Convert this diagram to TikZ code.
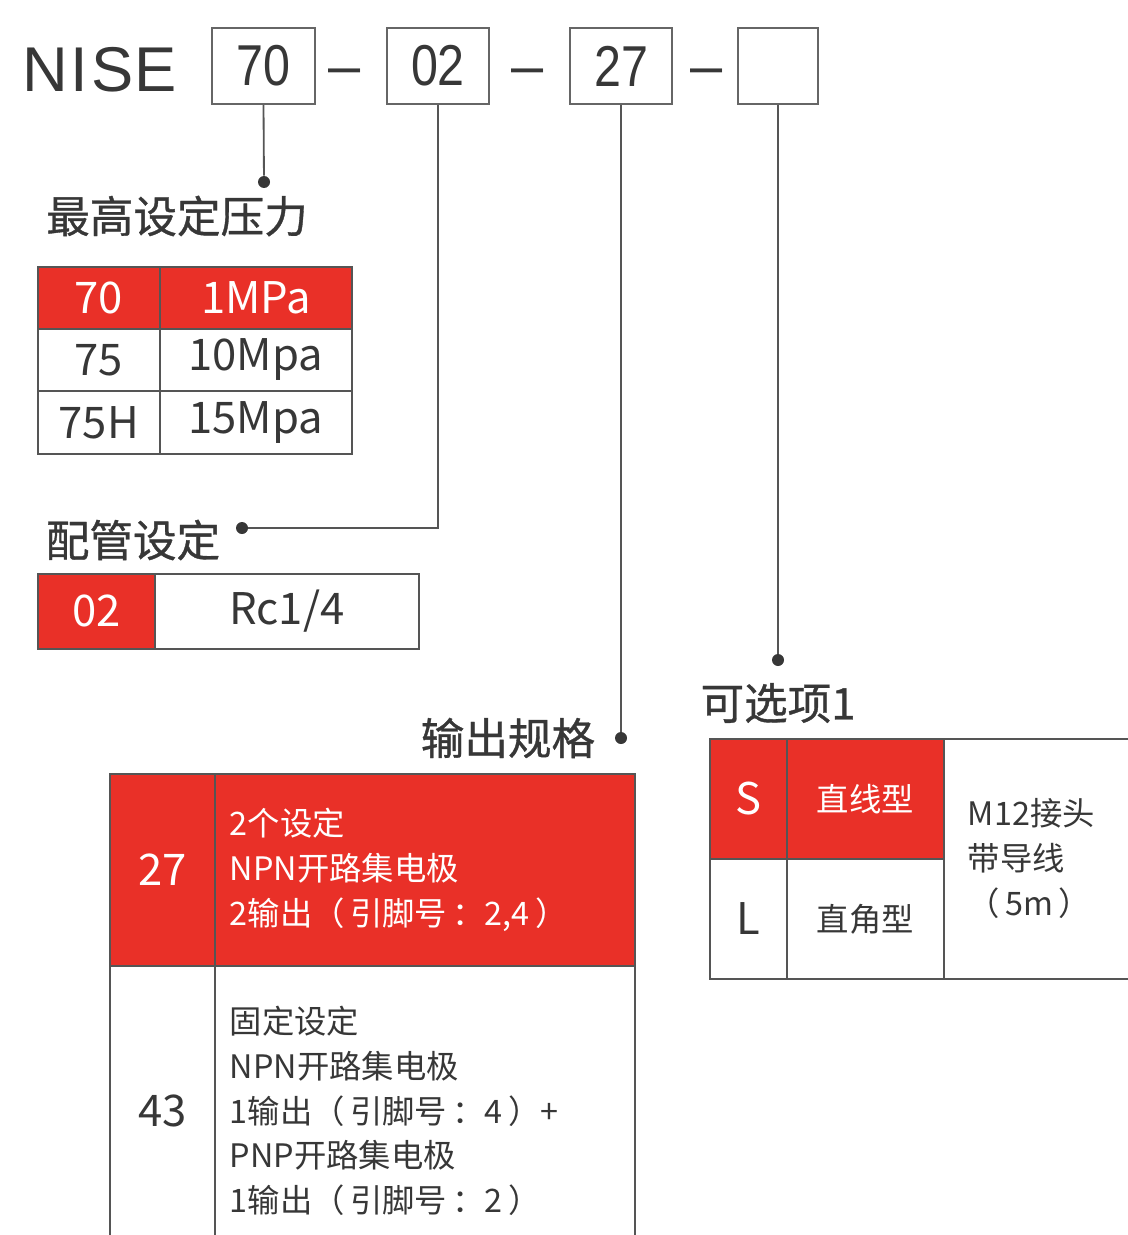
\documentclass[tikz,border=0pt]{standalone}
\usepackage{fontspec}
\setmainfont{Noto Sans CJK SC}
\newfontfamily\latinfont{Liberation Sans}
\newfontfamily\headcjk[FakeBold=0.8]{Noto Sans CJK SC}
\definecolor{cellred}{RGB}{233,48,40}
\definecolor{ink}{RGB}{55,55,55}
\definecolor{rulegray}{RGB}{85,85,85}
\newcommand\pxu{0.025cm}
\newcommand\codefont{\latinfont\fontsize{41}{44}\selectfont}
\newcommand\cellfont{\fontsize{31}{36}\selectfont}
\newcommand\notefont{\fontsize{23}{32}\selectfont}
\newcommand\headfont{\headcjk\fontsize{31}{36}\selectfont}
\newcommand\narrow[1]{\scalebox{0.84}[1]{#1}}

\begin{document}
\begin{tikzpicture}[
    x=0.025cm, y=-0.025cm,
    codebox/.style={rectangle, draw=rulegray!90, line width=1.4pt, minimum height=76*\pxu, inner sep=0pt, text=ink, font=\codefont},
    cell/.style={rectangle, draw=rulegray, line width=1.2pt, inner sep=0pt, anchor=north west, text=ink, font=\cellfont},
    redcell/.style={cell, fill=cellred, text=white},
    headtxt/.style={text=ink, font=\headfont, inner sep=0pt},
    dot/.style={circle, fill=ink, inner sep=0pt, minimum size=12*\pxu},
    link/.style={draw=rulegray, line width=1.3pt}
]
\useasboundingbox (0,0) rectangle (1128,1235);
\clip (0,0) rectangle (1128,1235);

% Code produit
\node[anchor=base west, text=ink, font=\latinfont\fontsize{45}{50}\selectfont, inner sep=0pt] (nise) at (22,92) {N\kern2pt I\kern2pt S\kern1pt E};
\node[codebox, minimum width=103*\pxu] (b70) at (263.5,66) {\narrow{70}};
\node[anchor=base, text=ink, font=\codefont, inner sep=0pt] (dash1) at (345,86) {–};
\node[codebox, minimum width=102*\pxu] (b02) at (438,66) {\narrow{02}};
\node[anchor=base, text=ink, font=\codefont, inner sep=0pt] (dash2) at (528,86) {–};
\node[codebox, minimum width=102*\pxu] (b27) at (621,66) {\narrow{27}};
\node[anchor=base, text=ink, font=\codefont, inner sep=0pt] (dash3) at (707,86) {–};
\node[codebox, minimum width=80*\pxu] (bopt) at (778,66) {};

% Points de rappel
\node[dot] (d70) at (264,182) {};
\node[dot] (d02) at (242,528) {};
\node[dot] (d27) at (621,738) {};
\node[dot] (dopt) at (778,660) {};

\draw[link] (b70.south) -- (d70);
\draw[link] (b02.south) |- (d02);
\draw[link] (b27.south) -- (d27);
\draw[link] (bopt.south) -- (dopt);

% Titres
\node[headtxt] (hpress) at (177,216) {最高设定压力};
\node[headtxt] (hpipe) at (133,540) {配管设定};
\node[headtxt] (hout) at (508,738) {输出规格};
\node[headtxt] (hopt) at (778,703) {可选项1};

% Pression
\node[redcell, minimum width=122*\pxu, minimum height=62*\pxu] (p70) at (37,266) {70};
\node[redcell, minimum width=192*\pxu, minimum height=62*\pxu] (p70v) at (159,266) {1MPa};
\node[cell, minimum width=122*\pxu, minimum height=62*\pxu] (p75) at (37,328) {75};
\node[cell, minimum width=192*\pxu, minimum height=62*\pxu] (p75v) at (159,328) {10Mpa};
\node[cell, minimum width=122*\pxu, minimum height=63*\pxu] (p75h) at (37,390) {75H};
\node[cell, minimum width=192*\pxu, minimum height=63*\pxu] (p75hv) at (159,390) {15Mpa};

% Raccord
\node[redcell, minimum width=117*\pxu, minimum height=75*\pxu] (r02) at (37,573) {02};
\node[cell, minimum width=264*\pxu, minimum height=75*\pxu] (r02v) at (154,573) {Rc1/4};

% Sortie
\node[redcell, minimum width=105*\pxu, minimum height=192*\pxu] (o27) at (109,773) {27};
\node[redcell, minimum width=420*\pxu, minimum height=192*\pxu, inner xsep=15*\pxu, text width=390*\pxu, align=left, font=\notefont] (o27v) at (214,773) {2个设定\\NPN开路集电极\\2输出（\,引脚号\,：2,4\,）};
\node[cell, minimum width=105*\pxu, minimum height=290*\pxu] (o43) at (109,965) {43};
\node[cell, minimum width=420*\pxu, minimum height=290*\pxu, inner xsep=15*\pxu, text width=390*\pxu, align=left, font=\notefont] (o43v) at (214,965) {固定设定\\NPN开路集电极\\1输出（\,引脚号\,：4\,）+\\PNP开路集电极\\1输出（\,引脚号\,：2\,）};

% Option
\node[redcell, minimum width=77*\pxu, minimum height=120*\pxu] (os) at (709,738) {S};
\node[redcell, minimum width=157*\pxu, minimum height=120*\pxu, font=\notefont] (osv) at (786,738) {直线型};
\node[cell, minimum width=77*\pxu, minimum height=120*\pxu] (ol) at (709,858) {L};
\node[cell, minimum width=157*\pxu, minimum height=120*\pxu, font=\notefont] (olv) at (786,858) {直角型};
\node[cell, minimum width=220*\pxu, minimum height=240*\pxu, inner xsep=24*\pxu, text width=172*\pxu, align=left, font=\notefont] (ocable) at (943,738) {M12接头\\带导线\\（\,5m\,）};

\end{tikzpicture}
\end{document}
